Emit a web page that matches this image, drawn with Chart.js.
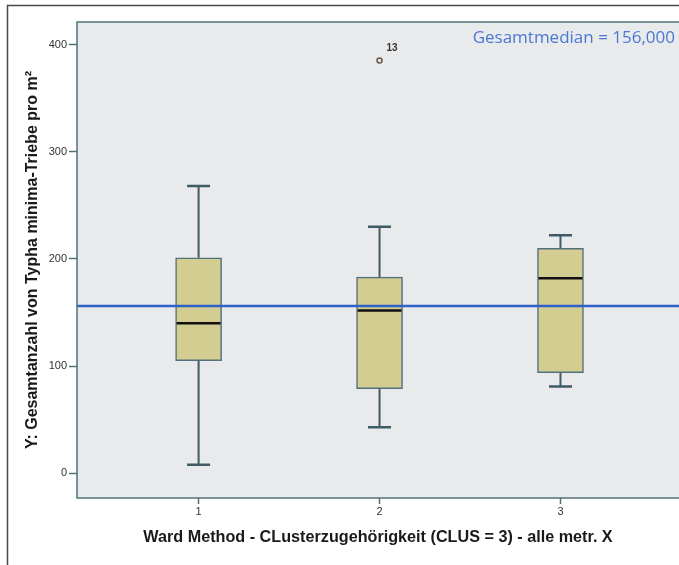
<!DOCTYPE html>
<html>
<head>
<meta charset="utf-8">
<script src="https://cdn.jsdelivr.net/npm/chart.js@4"></script>
<style>
  html, body { margin: 0; padding: 0; background: #fff; }
  #wrap { width: 679px; height: 565px; }
</style>
</head>
<body>
<div id="wrap"><canvas id="boxChart"></canvas></div>
<script>
// -------------------- DATA --------------------
const clusters = [1, 2, 3];
const whiskerLow = [8, 43, 81];
const quartile1 = [105, 79, 94];
const medians = [140, 152, 182];
const quartile3 = [201, 183, 210];
const whiskerHigh = [268, 230, 222];
const outlierCluster = [2];
const outlierValue = [385];
const outlierLabel = ["13"];
const overallMedian = 156;
const yTicks = [0, 100, 200, 300, 400];
const medianText = "Gesamtmedian = 156,000";

// -------------------- STYLE --------------------
const PLOT_BG = "#e9eaec";
const FRAME = "#52707a";
const WHISKER = "#3f5c66";
const BOX_FILL = "#d3cd91";
const MEDIAN_LINE = "#2f62c8";
const FONT = "'Liberation Sans', Arial, sans-serif";

// -------------------- BOX PARTS PLUGIN --------------------
const boxParts = {
  id: "boxParts",
  beforeDraw(chart) {
    const { ctx, chartArea: a } = chart;
    ctx.save();
    ctx.fillStyle = "#fff";
    ctx.fillRect(0, 0, chart.width, chart.height);
    // outer frame of the figure (right and bottom run off the picture)
    ctx.strokeStyle = "#4a4a4a";
    ctx.lineWidth = 1.5;
    ctx.strokeRect(7.5, 5.5, chart.width + 10, chart.height + 10);
    ctx.fillStyle = PLOT_BG;
    ctx.fillRect(a.left, a.top, a.right - a.left, a.bottom - a.top);
    ctx.restore();
  },
  beforeDatasetsDraw(chart) {
    const { ctx } = chart;
    const x = chart.scales.x, y = chart.scales.y;
    ctx.save();
    ctx.strokeStyle = WHISKER;
    clusters.forEach((c, i) => {
      const px = x.getPixelForValue(c);
      const yLo = y.getPixelForValue(whiskerLow[i]);
      const yQ1 = y.getPixelForValue(quartile1[i]);
      const yQ3 = y.getPixelForValue(quartile3[i]);
      const yHi = y.getPixelForValue(whiskerHigh[i]);
      ctx.lineWidth = 2;
      ctx.beginPath();
      ctx.moveTo(px, yLo); ctx.lineTo(px, yQ1);
      ctx.moveTo(px, yQ3); ctx.lineTo(px, yHi);
      ctx.stroke();
      ctx.lineWidth = 2.5;
      ctx.beginPath();
      ctx.moveTo(px - 11.5, yLo); ctx.lineTo(px + 11.5, yLo);
      ctx.moveTo(px - 11.5, yHi); ctx.lineTo(px + 11.5, yHi);
      ctx.stroke();
    });
    ctx.restore();
  },
  afterDatasetsDraw(chart) {
    const { ctx, chartArea: a } = chart;
    const x = chart.scales.x, y = chart.scales.y;
    ctx.save();
    // medians
    ctx.strokeStyle = "#111";
    ctx.lineWidth = 2.5;
    clusters.forEach((c, i) => {
      const px = x.getPixelForValue(c);
      const py = y.getPixelForValue(medians[i]);
      ctx.beginPath();
      ctx.moveTo(px - 22, py); ctx.lineTo(px + 22, py);
      ctx.stroke();
    });
    // overall median reference line
    const my = y.getPixelForValue(overallMedian);
    ctx.strokeStyle = MEDIAN_LINE;
    ctx.lineWidth = 2.5;
    ctx.beginPath();
    ctx.moveTo(a.left, my); ctx.lineTo(a.right, my);
    ctx.stroke();
    ctx.fillStyle = "#4a78d2";
    ctx.font = "17px 'Open Sans', sans-serif";
    ctx.textAlign = "right";
    ctx.textBaseline = "middle";
    ctx.fillText(medianText, a.right - 4, a.top + 16);
    // outlier case labels
    ctx.fillStyle = "#333";
    ctx.font = "bold 10px " + FONT;
    ctx.textAlign = "left";
    outlierCluster.forEach((c, i) => {
      ctx.fillText(outlierLabel[i], x.getPixelForValue(c) + 7, y.getPixelForValue(outlierValue[i]) - 12);
    });
    // plot frame
    ctx.strokeStyle = FRAME;
    ctx.lineWidth = 1.5;
    ctx.strokeRect(a.left, a.top, a.right - a.left + 5, a.bottom - a.top);
    ctx.restore();
  }
};

// -------------------- CHART --------------------
const ctx = document.getElementById("boxChart").getContext("2d");
const chart = new Chart(ctx, {
  type: "bar",
  data: {
    datasets: [{
      label: "Boxes",
      data: clusters.map((c, i) => ({ x: c, y: [quartile1[i], quartile3[i]] })),
      backgroundColor: BOX_FILL,
      borderColor: FRAME,
      borderWidth: 1.5,
      borderSkipped: false,
      barThickness: 46
    }, {
      type: "scatter",
      label: "Outliers",
      data: outlierCluster.map((c, i) => ({ x: c, y: outlierValue[i] })),
      pointStyle: "circle",
      pointRadius: 2.5,
      borderColor: "#6b5846",
      backgroundColor: "rgba(0,0,0,0)",
      borderWidth: 1.5
    }]
  },
  options: {
    responsive: true,
    maintainAspectRatio: false,
    animation: false,
    layout: { autoPadding: false, padding: { top: 22, left: 0, right: 0, bottom: 0 } },
    plugins: {
      legend: { display: false },
      tooltip: { enabled: false }
    },
    scales: {
      x: {
        type: "linear",
        min: 0.328,
        max: 3.655,
        offset: false,
        afterBuildTicks: s => { s.ticks = clusters.map(v => ({ value: v })); },
        afterFit: s => { s.height = 67; s.paddingLeft = 0; s.paddingRight = 0; },
        grid: { offset: false, drawOnChartArea: false, drawTicks: true, tickLength: 6, tickColor: FRAME, tickWidth: 1.5 },
        border: { display: false },
        ticks: { color: "#333", font: { family: FONT, size: 11 }, padding: 1, callback: v => String(v) },
        title: {
          display: true,
          text: "Ward Method - CLusterzugehörigkeit (CLUS = 3) - alle metr. X",
          color: "#1a1a1a",
          font: { family: FONT, size: 16.2, weight: "bold" },
          padding: { top: 0, bottom: 18 }
        }
      },
      y: {
        min: -23,
        max: 421,
        afterBuildTicks: s => { s.ticks = yTicks.map(v => ({ value: v })); },
        afterFit: s => { s.width = 77; s.paddingTop = 0; s.paddingBottom = 0; },
        grid: { drawOnChartArea: false, drawTicks: true, tickLength: 8, tickColor: FRAME, tickWidth: 1.5 },
        border: { display: false },
        ticks: { color: "#333", font: { family: FONT, size: 11 }, padding: 2 },
        title: {
          display: true,
          text: "Y: Gesamtanzahl von Typha minima-Triebe pro m²",
          color: "#1a1a1a",
          font: { family: FONT, size: 16, weight: "bold" },
          padding: { top: 23, bottom: 0 }
        }
      }
    }
  },
  plugins: [boxParts]
});
</script>
</body>
</html>
